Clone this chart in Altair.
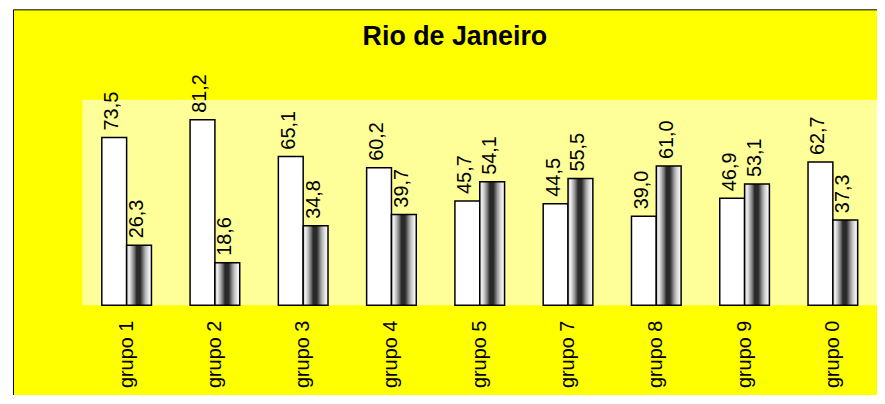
import altair as alt
import pandas as pd

grupos = ["grupo 1", "grupo 2", "grupo 3", "grupo 4", "grupo 5", "grupo 7", "grupo 8", "grupo 9", "grupo 0"]
serie_a = [73.5, 81.2, 65.1, 60.2, 45.7, 44.5, 39.0, 46.9, 62.7]
serie_b = [26.3, 18.6, 34.8, 39.7, 54.1, 55.5, 61.0, 53.1, 37.3]
series = ["A", "B"]

rows = []
for g, a, b in zip(grupos, serie_a, serie_b):
    rows.append({"grupo": g, "serie": "A", "valor": a})
    rows.append({"grupo": g, "serie": "B", "valor": b})
df = pd.DataFrame(rows)

W, H = 800, 207
FONT = "Liberation Sans"

grad = alt.LinearGradient(
    gradient="linear", x1=0, x2=1, y1=0, y2=0,
    stops=[
        alt.GradientStop(offset=0.00, color="#c8c8c8"),
        alt.GradientStop(offset=0.10, color="#f0f0f0"),
        alt.GradientStop(offset=0.22, color="#b0b0b0"),
        alt.GradientStop(offset=0.32, color="#707070"),
        alt.GradientStop(offset=0.40, color="#2a2a2a"),
        alt.GradientStop(offset=0.55, color="#2a2a2a"),
        alt.GradientStop(offset=0.63, color="#606060"),
        alt.GradientStop(offset=0.72, color="#a0a0a0"),
        alt.GradientStop(offset=0.82, color="#d0d0d0"),
        alt.GradientStop(offset=0.92, color="#f0f0f0"),
        alt.GradientStop(offset=1.00, color="#f8f8f8"),
    ],
)

x_enc = alt.X("grupo:N", sort=grupos,
              scale=alt.Scale(paddingInner=0.4375, paddingOuter=0.21875),
              axis=alt.Axis(labelAngle=-90, domain=False, ticks=False, title=None,
                            labelFontSize=20, labelFont=FONT, labelColor="black",
                            labelPadding=15, grid=False, zindex=2))
xo_enc = alt.XOffset("serie:N", scale=alt.Scale(domain=series, paddingInner=0, paddingOuter=0))
y_enc = alt.Y("valor:Q", scale=alt.Scale(domain=[0, 90], nice=False, zero=True), axis=None)

frame = alt.Chart(alt.Data(values=[{}])).mark_rect(
    fill="#FFFF00", stroke="black", strokeWidth=1
).encode(x=alt.value(-69.5), x2=alt.value(900), y=alt.value(-90.5), y2=alt.value(400))

plotbg = alt.Chart(alt.Data(values=[{}])).mark_rect(fill="#FFFF99").encode(
    x=alt.value(0), x2=alt.value(W), y=alt.value(0), y2=alt.value(H))

base = alt.Chart(df)

bars_a = base.transform_filter("datum.serie == 'A'").mark_bar(
    fill="white", stroke="black", strokeWidth=1.5
).encode(x=x_enc, xOffset=xo_enc, y=y_enc)

bars_b = base.transform_filter("datum.serie == 'B'").mark_bar(
    fill=grad, stroke="black", strokeWidth=1.5
).encode(x=x_enc, xOffset=xo_enc, y=y_enc)

labels = base.transform_calculate(
    rot="replace(format(datum.valor, '.1f'), '.', ',')"
).mark_text(angle=270, align="left", baseline="middle", dx=7, dy=-2,
            fontSize=20, font=FONT, color="black").encode(
    x=x_enc, xOffset=xo_enc, y=y_enc, text="rot:N")

chart = alt.layer(frame, plotbg, bars_a, bars_b, labels).properties(
    width=W, height=H,
    title=alt.TitleParams("Rio de Janeiro", fontSize=27, font=FONT, fontWeight="bold",
                          color="black", anchor="middle", dx=-25, offset=0, dy=42, zindex=2),
    background="white",
    padding={"left": 75, "top": 91, "right": 0, "bottom": 89},
    autosize=alt.AutoSizeParams(type="none"),
).configure_view(stroke=None, fill=None)

chart.save("out.html", embed_options={"renderer": "svg", "actions": False})
